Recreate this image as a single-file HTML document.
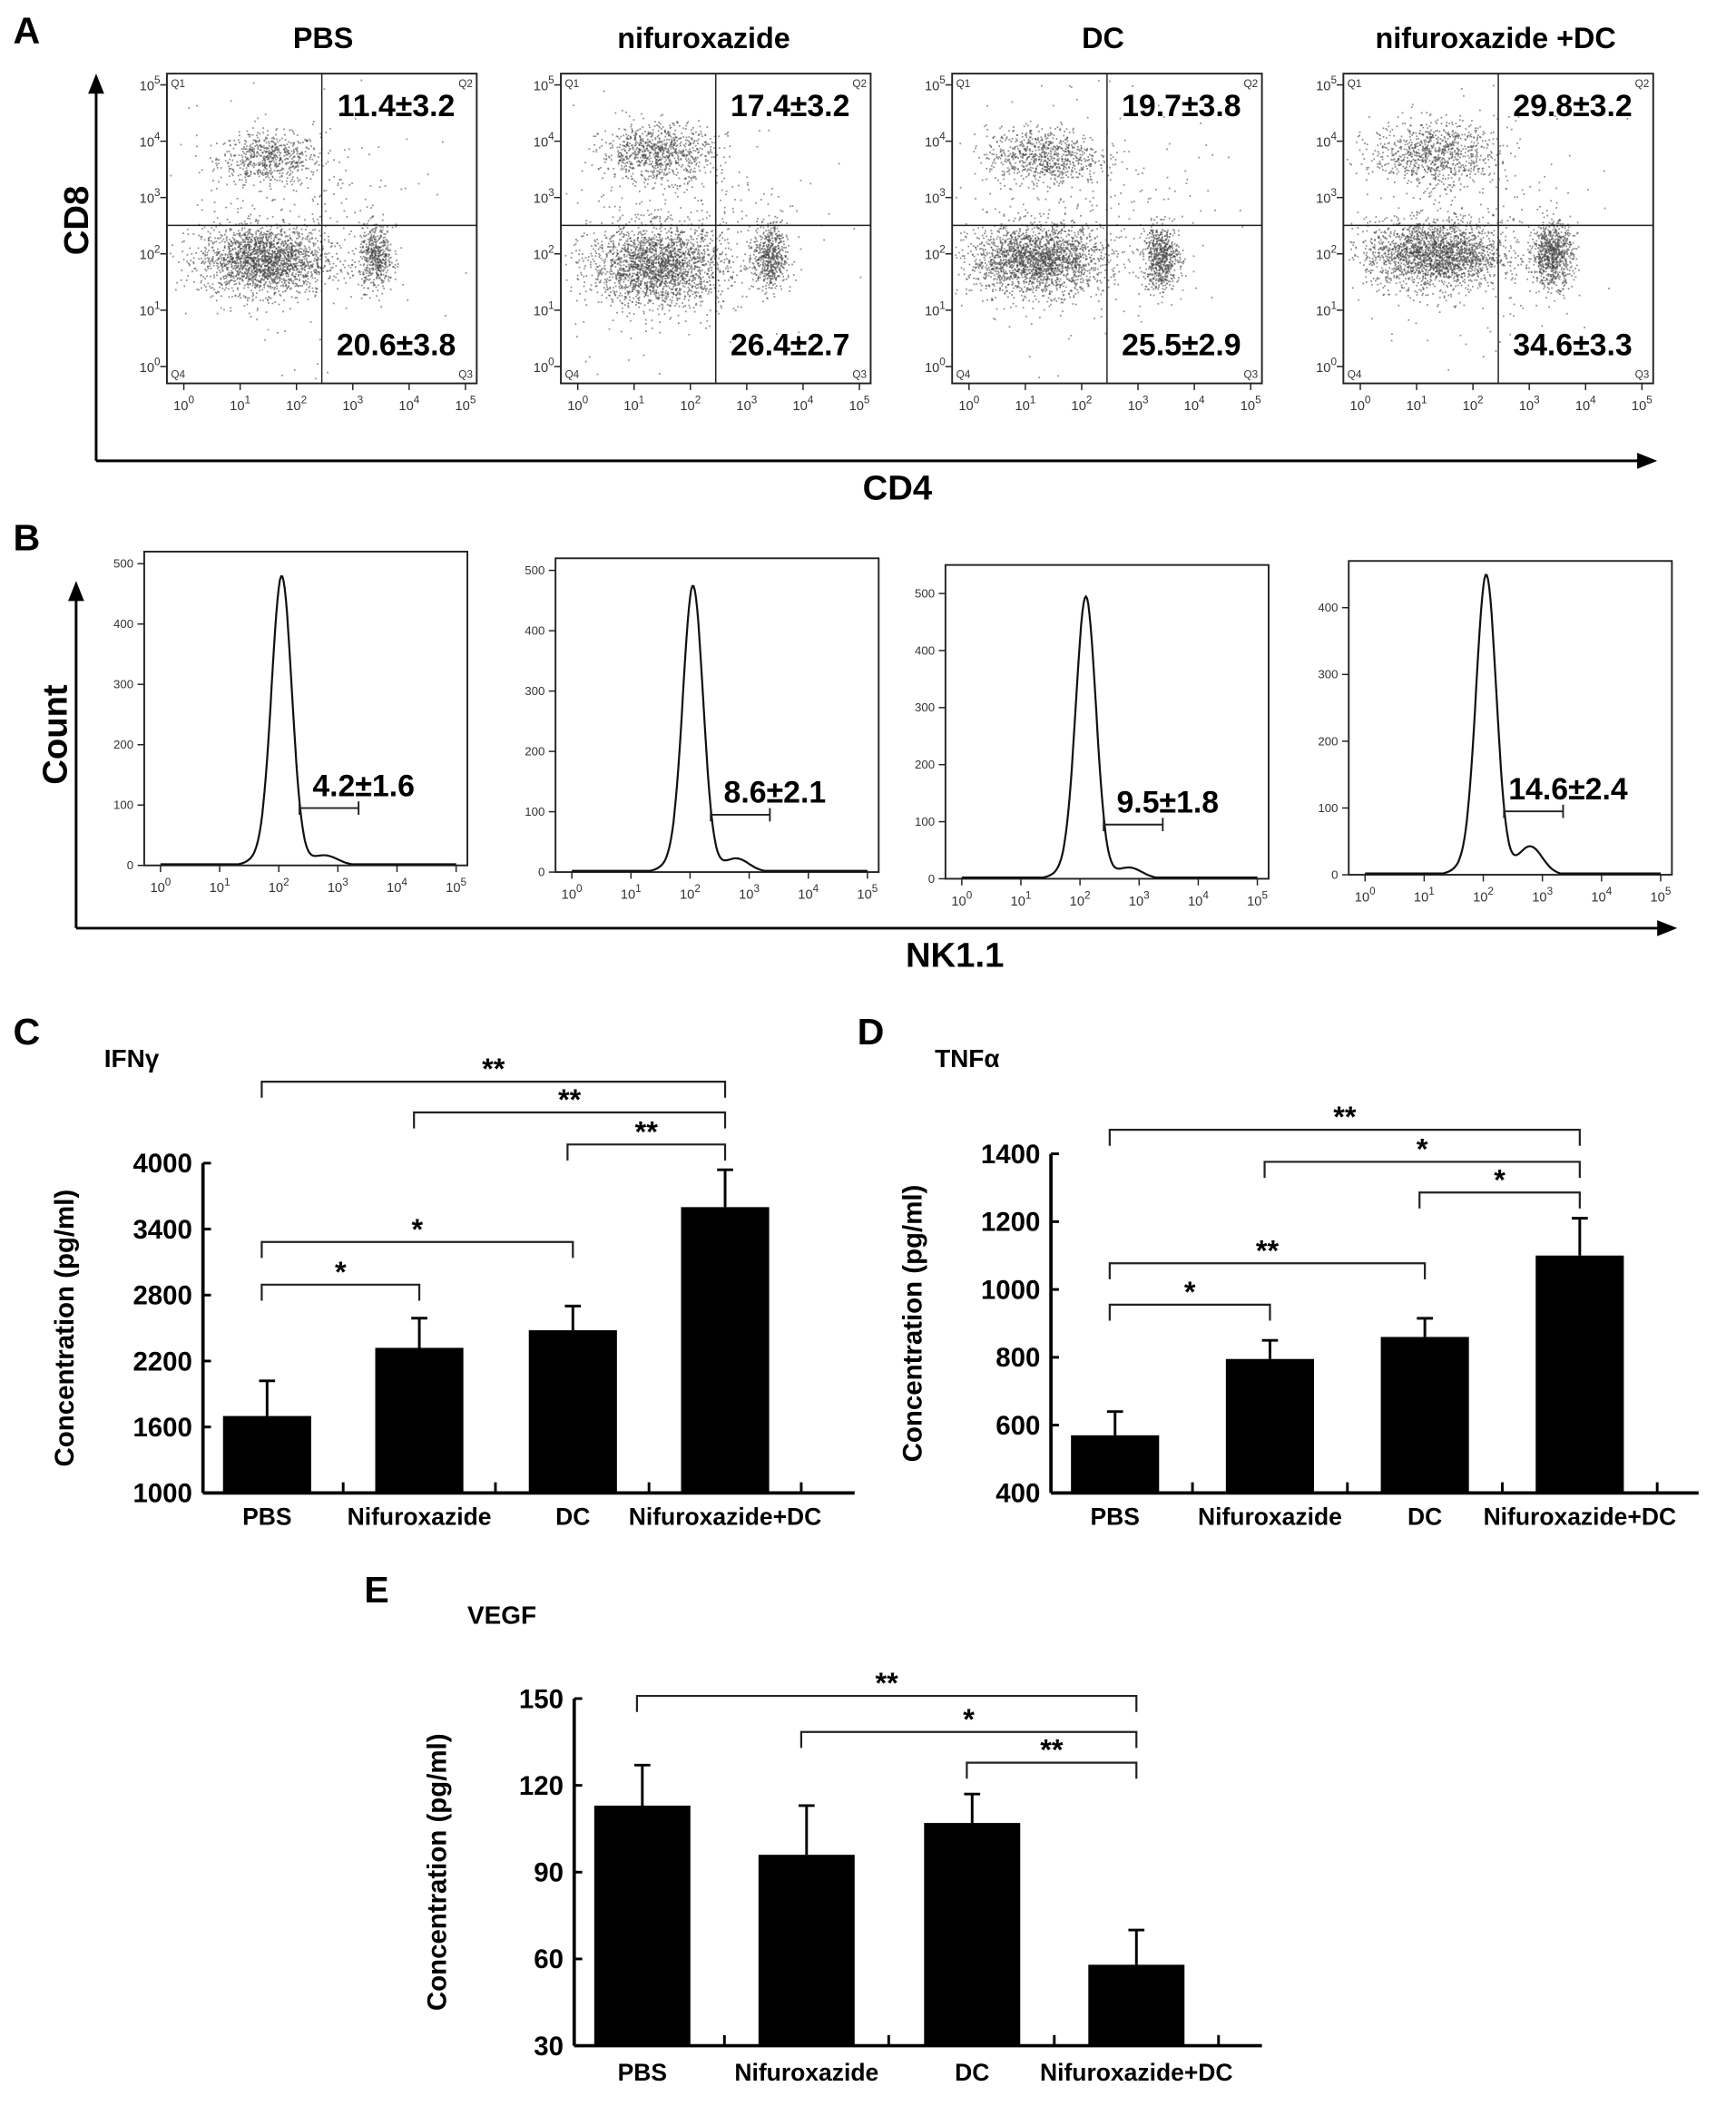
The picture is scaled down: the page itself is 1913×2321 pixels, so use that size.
<!DOCTYPE html>
<html><head><meta charset="utf-8"><style>
html,body{margin:0;padding:0;background:#fff}
svg{display:block}
text{font-family:"Liberation Sans",Arial,sans-serif}
</style></head><body>
<svg id="fig" width="1913" height="2321" viewBox="0 0 1300 1577" xmlns="http://www.w3.org/2000/svg">
<g id="A"></g>
<g id="B"></g>
<g id="C"></g>
<g id="D"></g>
<g id="E"></g>
</svg>
<script>
// ---------- data ----------
const groupTitlesA = ["PBS","nifuroxazide","DC","nifuroxazide +DC"];
const q2Labels = ["11.4±3.2","17.4±3.2","19.7±3.8","29.8±3.2"];
const q3Labels = ["20.6±3.8","26.4±2.7","25.5±2.9","34.6±3.3"];
// cluster params per plot: [xDecade, yDecade, sdX, sdY, count]
const cd8Clusters = [[1.5,3.7,0.45,0.22,600],[1.4,3.8,0.5,0.25,850],[1.3,3.75,0.5,0.25,750],[1.3,3.8,0.55,0.28,850]];
const dnClusters  = [[1.4,1.9,0.55,0.3,2000],[1.4,1.8,0.6,0.35,2100],[1.2,1.9,0.6,0.3,2100],[1.3,2.0,0.6,0.3,2100]];
const cd4Clusters = [[3.4,1.95,0.15,0.28,500],[3.4,1.95,0.15,0.3,560],[3.4,1.95,0.16,0.28,640],[3.4,2.0,0.18,0.28,800]];
const nkLabels = ["4.2±1.6","8.6±2.1","9.5±1.8","14.6±2.4"];
const nkPeakPos = [2.05,2.05,2.1,2.05];
const nkPeakHeight = [475,470,490,445];
const nkShoulder = [12,18,15,38];
const nkYMax = [520,520,550,470];
const nkYTicks = [[0,100,200,300,400,500],[0,100,200,300,400,500],[0,100,200,300,400,500],[0,100,200,300,400]];
const categories = ["PBS","Nifuroxazide","DC","Nifuroxazide+DC"];
const ifnValues = [1700,2320,2480,3600];
const ifnErr = [320,270,220,340];
const ifnTicks = [1000,1600,2200,2800,3400,4000];
const tnfValues = [570,795,860,1100];
const tnfErr = [70,55,55,110];
const tnfTicks = [400,600,800,1000,1200,1400];
const vegfValues = [113,96,107,58];
const vegfErr = [14,17,10,12];
const vegfTicks = [30,60,90,120,150];
const ifnSig = [[0,3,"**"],[1,3,"**"],[2,3,"**"],[0,2,"*"],[0,1,"*"]];
const tnfSig = [[0,3,"**"],[1,3,"*"],[2,3,"*"],[0,2,"**"],[0,1,"*"]];
const vegfSig = [[0,3,"**"],[1,3,"*"],[2,3,"**"]];

// ---------- helpers ----------
const NS="http://www.w3.org/2000/svg";
function mk(parent,tag,attrs,txt){const e=document.createElementNS(NS,tag);for(const k in attrs)e.setAttribute(k,attrs[k]);if(txt!==undefined)e.textContent=txt;parent.appendChild(e);return e;}
let seed=12345;function rnd(){seed=(seed*1103515245+12345)%2147483648;return seed/2147483648;}
function gauss(){let u=rnd()||1e-6,v=rnd();return Math.sqrt(-2*Math.log(u))*Math.cos(2*Math.PI*v);}
function label(parent,x,y,t,size,name,extra){const e=mk(parent,"text",Object.assign({x:x,y:y,"font-size":size,"font-weight":"bold","text-anchor":"middle",fill:"#000"},extra||{}),t);return e;}
function powLabel(g,x,y,p,anchor){const t=mk(g,"text",{x:x,y:y,"font-size":10,fill:"#333","text-anchor":anchor||"middle"});const a=mk(t,"tspan",{},"10");const b=mk(t,"tspan",{dy:-5,"font-size":8},String(p));}

// ---------- Panel A ----------
const A=document.getElementById("A");
label(A,20,32,"A",28,"panel-label-a");
const aLeft=[125,420,713,1006];const aTop=[55,55,55,55];const aW=232,aH=232;
const titleX=[242,527,826,1120];
mk(A,"line",{x1:72,y1:345,x2:72,y2:68,stroke:"#000","stroke-width":2});
mk(A,"polygon",{points:"66,70 78,70 72,55",fill:"#000"});
mk(A,"line",{x1:72,y1:345,x2:1228,y2:345,stroke:"#000","stroke-width":2});
mk(A,"polygon",{points:"1226,339 1226,351 1241,345",fill:"#000"});
label(A,66,165,"CD8",26,"y-axis-title-cd8",{transform:"rotate(-90 66 165)"});
label(A,672,374,"CD4",26,"x-axis-title-cd4");
for(let i=0;i<4;i++){
  const g=mk(A,"g",{});
  label(g,titleX[i],36,groupTitlesA[i],22,"group-title");
  const L=aLeft[i],T=aTop[i];
  const xs=d=>L+(d+0.3)/5.5*aW, ys=d=>T+aH-(d+0.3)/5.5*aH;
  const dots=mk(g,"g",{fill:"#444","fill-opacity":0.6});
  const cl=[cd8Clusters[i],dnClusters[i],cd4Clusters[i],[2,2.5,1.1,1.1,300]];
  cl.forEach(c=>{for(let k=0;k<c[4];k++){const dx=c[0]+gauss()*c[2],dy=c[1]+gauss()*c[3];if(dx<-0.25||dx>5.1||dy<-0.25||dy>5.1)continue;
    mk(dots,"rect",{x:xs(dx).toFixed(1),y:ys(dy).toFixed(1),width:1.2,height:1.2});}});
  mk(g,"rect",{x:L,y:T,width:aW,height:aH,fill:"none",stroke:"#222","stroke-width":1.3});
  mk(g,"line",{x1:L+aW*0.5,y1:T,x2:L+aW*0.5,y2:T+aH,stroke:"#222","stroke-width":1});
  mk(g,"line",{x1:L,y1:T+aH*0.49,x2:L+aW,y2:T+aH*0.49,stroke:"#222","stroke-width":1});
  for(let p=0;p<=5;p++){powLabel(g,xs(p),T+aH+20,p);powLabel(g,L-5,ys(p)+4,p,"end");
    mk(g,"line",{x1:xs(p),y1:T+aH,x2:xs(p),y2:T+aH+5,stroke:"#222"});mk(g,"line",{x1:L,y1:ys(p),x2:L-5,y2:ys(p),stroke:"#222"});}
  mk(g,"text",{x:L+3,y:T+10,"font-size":8,fill:"#333"},"Q1");mk(g,"text",{x:L+aW-3,y:T+10,"font-size":8,fill:"#333","text-anchor":"end"},"Q2");
  mk(g,"text",{x:L+3,y:T+aH-4,"font-size":8,fill:"#333"},"Q4");mk(g,"text",{x:L+aW-3,y:T+aH-4,"font-size":8,fill:"#333","text-anchor":"end"},"Q3");
  label(g,L+aW*0.74,T+32,q2Labels[i],23,"q2-percentage");
  label(g,L+aW*0.74,T+211,q3Labels[i],23,"q3-percentage");
}

// ---------- Panel B ----------
const B=document.getElementById("B");
label(B,20,412,"B",28,"panel-label-b");
const bLeft=[108,416,708,1010],bTop=[413,418,423,420],bW=242,bH=235;
mk(B,"line",{x1:57,y1:695,x2:57,y2:448,stroke:"#000","stroke-width":2});
mk(B,"polygon",{points:"51,450 63,450 57,435",fill:"#000"});
mk(B,"line",{x1:57,y1:695,x2:1243,y2:695,stroke:"#000","stroke-width":2});
mk(B,"polygon",{points:"1241,689 1241,701 1256,695",fill:"#000"});
label(B,50,550,"Count",26,"y-axis-title-count",{transform:"rotate(-90 50 550)"});
label(B,715,724,"NK1.1",26,"x-axis-title-nk11");
for(let i=0;i<4;i++){
  const g=mk(B,"g",{});
  const L=bLeft[i],T=bTop[i];
  const xs=d=>L+10+(d+0.05)/5.15*(bW-14), ys=v=>T+bH-v/nkYMax[i]*bH;
  mk(g,"rect",{x:L,y:T,width:bW,height:bH,fill:"none",stroke:"#222","stroke-width":1.3});
  let dstr="";
  for(let d=0;d<=5;d+=0.02){const main=nkPeakHeight[i]*Math.exp(-Math.pow((d-nkPeakPos[i])/0.17,2)/2)+ 12*Math.exp(-Math.pow((d-nkPeakPos[i]+0.35)/0.2,2)/2);
    const sh=nkShoulder[i]*Math.exp(-Math.pow((d-nkPeakPos[i]-0.75)/0.2,2)/2)+6*Math.exp(-Math.pow((d-nkPeakPos[i]-0.5)/0.35,2)/2);
    const v=Math.max(2,main+sh);dstr+=(d===0?"M":"L")+xs(d).toFixed(1)+","+ys(v).toFixed(1);}
  const p=mk(g,"path",{d:dstr,fill:"none",stroke:"#111","stroke-width":1.5});
  for(let q=0;q<=5;q++){powLabel(g,xs(q),T+bH+20,q);mk(g,"line",{x1:xs(q),y1:T+bH,x2:xs(q),y2:T+bH+5,stroke:"#222"});}
  nkYTicks[i].forEach(v=>{mk(g,"line",{x1:L,y1:ys(v),x2:L-5,y2:ys(v),stroke:"#222"});const t=mk(g,"text",{x:L-8,y:ys(v)+3,"font-size":9,fill:"#333","text-anchor":"end"},String(v));});
  const gy=ys(95),gx1=xs(nkPeakPos[i]+0.3),gx2=xs(nkPeakPos[i]+1.3);
  mk(g,"line",{x1:gx1,y1:gy,x2:gx2,y2:gy,stroke:"#222","stroke-width":1.3});
  mk(g,"line",{x1:gx1,y1:gy-5,x2:gx1,y2:gy+5,stroke:"#222","stroke-width":1.3});mk(g,"line",{x1:gx2,y1:gy-5,x2:gx2,y2:gy+5,stroke:"#222","stroke-width":1.3});
  label(g,gx1+48,gy-9,nkLabels[i],23,"nk-percentage");
}

// ---------- bar charts ----------
function barChart(root,cfg){
  const {axisX,top,bottom,right,centers,barW,ticks,values,errs,sig,sigY,labelY,title,tx,ty,letter,lx,ly,ylabX}=cfg;
  const ymin=ticks[0],ymax=ticks[ticks.length-1];
  const ys=v=>bottom-(v-ymin)/(ymax-ymin)*(bottom-top);
  label(root,lx,ly,letter,28,"panel-label-"+letter.toLowerCase());
  label(root,tx,ty,title,19,"chart-title",{"text-anchor":"start"});
  const ya=mk(root,"line",{x1:axisX,y1:top,x2:axisX,y2:bottom,stroke:"#000","stroke-width":2.5});
  const xa=mk(root,"line",{x1:axisX,y1:bottom,x2:right,y2:bottom,stroke:"#000","stroke-width":2.5});
  label(root,ylabX,(top+bottom)/2,"Concentration (pg/ml)",20,"y-axis-title",{transform:"rotate(-90 "+ylabX+" "+(top+bottom)/2+")"});
  ticks.forEach(v=>{mk(root,"line",{x1:axisX,y1:ys(v),x2:axisX+6,y2:ys(v),stroke:"#000","stroke-width":2});
    label(root,axisX-8,ys(v)+7,String(v),20,"y-tick-label",{"text-anchor":"end"});});
  const step=centers[1]-centers[0];
  for(let k=0;k<4;k++){mk(root,"line",{x1:centers[k]+step/2,y1:bottom,x2:centers[k]+step/2,y2:bottom-8,stroke:"#000","stroke-width":2});}
  values.forEach((v,k)=>{
    const b=mk(root,"rect",{x:centers[k]-barW/2,y:ys(v),width:barW,height:bottom-ys(v),fill:"#000"});
    
    const ey=ys(v+errs[k]);
    const e=mk(root,"path",{d:`M${centers[k]},${ys(v)}V${ey}M${centers[k]-6},${ey}H${centers[k]+6}`,stroke:"#000","stroke-width":2,fill:"none"});
    
    label(root,centers[k],labelY,categories[k],18,"x-tick-label");
  });
  sig.forEach((s,k)=>{const y=sigY[k],x1=centers[s[0]]-4,x2=centers[s[1]];
    const p=mk(root,"path",{d:`M${x1},${y+12}V${y}H${x2}V${y+12}`,stroke:"#222","stroke-width":1.5,fill:"none"});
    
    label(root,(x1+x2)/2,y-2,s[2],22,"significance-stars");});
}
barChart(document.getElementById("C"),{axisX:152,top:871,bottom:1118,right:640,centers:[200,314,429,543],barW:66,ticks:ifnTicks,values:ifnValues,errs:ifnErr,sig:ifnSig,sigY:[810,833,857,930,962],labelY:1142,title:"IFNγ",tx:78,ty:799,letter:"C",lx:20,ly:782,ylabX:55});
barChart(document.getElementById("D"),{axisX:787,top:864,bottom:1118,right:1272,centers:[835,951,1067,1183],barW:66,ticks:tnfTicks,values:tnfValues,errs:tnfErr,sig:tnfSig,sigY:[846,870,893,946,977],labelY:1142,title:"TNFα",tx:700,ty:799,letter:"D",lx:652,ly:782,ylabX:690});
barChart(document.getElementById("E"),{axisX:430,top:1272,bottom:1532,right:945,centers:[481,604,728,851],barW:72,ticks:vegfTicks,values:vegfValues,errs:vegfErr,sig:vegfSig,sigY:[1270,1297,1320],labelY:1558,title:"VEGF",tx:350,ty:1216,letter:"E",lx:282,ly:1200,ylabX:334});
</script>
</body></html>
